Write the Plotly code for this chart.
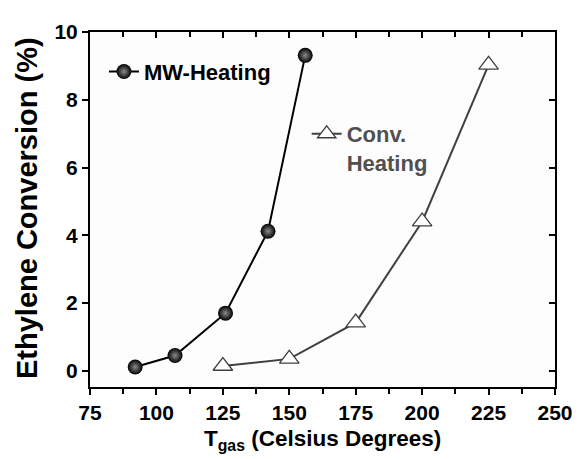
import plotly.graph_objects as go

mw_x = [92, 107, 126, 142, 156]
mw_y = [0.11, 0.45, 1.70, 4.12, 9.31]
conv_x = [125, 150, 175, 200, 225]
conv_y = [0.14, 0.35, 1.42, 4.40, 9.03]

x_ticks = [75, 100, 125, 150, 175, 200, 225, 250]
y_ticks = [0, 2, 4, 6, 8, 10]

FONT = "Liberation Sans, Arial, sans-serif"

fig = go.Figure()
fig.add_trace(go.Scatter(
    x=mw_x, y=mw_y, mode="lines+markers", name="MW-Heating",
    line=dict(color="black", width=2),
    marker=dict(size=15, color="black", symbol="circle",
                gradient=dict(type="radial", color="#8a8a8a"),
                line=dict(width=0)),
    legend="legend",
))
fig.add_trace(go.Scatter(
    x=conv_x, y=conv_y, mode="lines+markers", name="Conv.<br>Heating",
    line=dict(color="#404040", width=2),
    marker=dict(size=17, color="white", symbol="triangle-up",
                line=dict(color="#404040", width=1.3)),
    legend="legend2",
))
# invisible trace to drive mirrored axes
fig.add_trace(go.Scatter(x=[None], y=[None], xaxis="x2", yaxis="y2", showlegend=False))

axis_common = dict(showline=True, linecolor="black", linewidth=2, showgrid=False,
                   zeroline=False, ticklen=6, tickwidth=2, tickcolor="black")
tickfont = dict(family=FONT, size=21, color="black")

fig.update_layout(
    width=577, height=451,
    margin=dict(l=82, r=20, t=14, b=72),
    paper_bgcolor="white", plot_bgcolor="#fdfdfd",
    font=dict(family=FONT, size=20, color="black"),
    xaxis=dict(range=[75, 250], tickvals=x_ticks,
               ticktext=["<b>%d</b>" % v for v in x_ticks], ticks="outside",
               tickfont=tickfont,
               minor=dict(dtick=12.5, tick0=75, ticks="outside", ticklen=5, tickwidth=2, tickcolor="black"),
               **axis_common),
    yaxis=dict(range=[-0.48, 10], tickvals=y_ticks,
               ticktext=["<b>%d</b>" % v for v in y_ticks], ticks="outside",
               tickfont=tickfont,
               **axis_common),
    xaxis2=dict(overlaying="x", side="top", range=[75, 250], tickvals=x_ticks,
                ticks="inside", showticklabels=False, anchor="y",
                minor=dict(dtick=12.5, tick0=75, ticks="inside", ticklen=5, tickwidth=2, tickcolor="black"),
                **axis_common),
    yaxis2=dict(overlaying="y", side="right", range=[-0.48, 10], tickvals=y_ticks,
                ticks="inside", showticklabels=False, anchor="x",
                **axis_common),
    legend=dict(x=0.03, y=0.888, xanchor="left", yanchor="middle", bgcolor="rgba(0,0,0,0)",
                font=dict(family=FONT, size=22, color="black", weight="bold"),
                tracegroupgap=0),
    legend2=dict(x=0.466, y=0.772, xanchor="left", yanchor="top", bgcolor="rgba(0,0,0,0)",
                 font=dict(family=FONT, size=22, color="#505050", weight="bold"),
                 valign="top"),
    annotations=[
        dict(text="<b>Ethylene Conversion (%)</b>", textangle=-90, x=-0.137, y=0.505,
             xref="paper", yref="paper", showarrow=False, xanchor="center", yanchor="middle",
             font=dict(family=FONT, size=29, color="black")),
        dict(text="<b>T<sub>gas</sub> (Celsius Degrees)</b>", x=0.5, y=-0.148,
             xref="paper", yref="paper", showarrow=False, xanchor="center", yanchor="middle",
             font=dict(family=FONT, size=22.5, color="black")),
    ],
)

fig.write_html("out.html")
